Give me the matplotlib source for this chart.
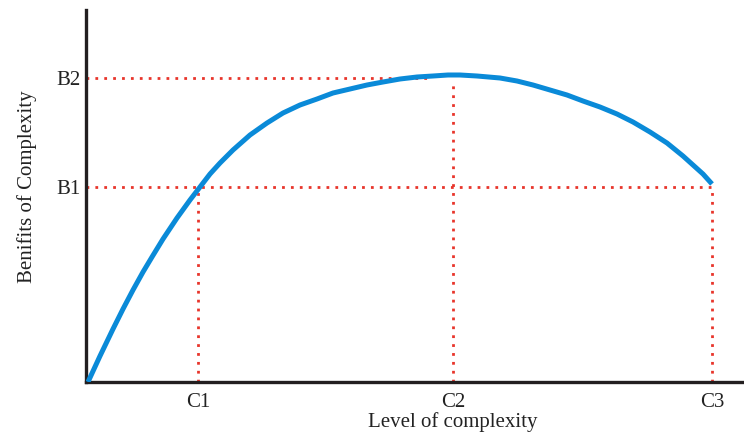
import matplotlib
matplotlib.use("Agg")
import matplotlib.pyplot as plt

# curve (x = complexity, y = benefit), arbitrary units
curve_x = [2, 14, 27, 37, 47, 57, 66, 77, 91, 104, 114, 124, 134, 147, 164,
           181, 197, 214, 231, 247, 264, 281, 297, 314, 331, 347, 362, 374,
           391, 414, 431, 447, 464, 481, 497, 514, 531, 547, 564, 581, 597,
           607, 617, 626]
curve_y = [0, 26, 53, 73, 92, 110, 125, 143, 164, 182, 195, 208, 219, 232,
           247, 259, 269, 277, 283, 289, 293, 297, 300, 303, 305, 306, 307,
           307, 306, 304, 301, 297, 292, 287, 281, 275, 268, 260, 250, 239,
           226, 217, 208, 198]

x_ticks = [112, 367, 626]
x_labels = ["C1", "C2", "C3"]
y_ticks = [195, 304]
y_labels = ["B1", "B2"]

# where the B2 guide stops (meets the curve) and C2 guide starts
b2_end = 341
c2_top = 300

RED = "#e8352b"
BLUE = "#0a8ad8"
AXIS = "#231f20"
dots = (0, (1, 2.2))

plt.rcParams["font.family"] = ["Liberation Serif", "DejaVu Serif"]

fig = plt.figure(figsize=(7.44, 4.33), dpi=100)
ax = fig.add_axes([86 / 744, 51 / 433, 658 / 744, 372 / 433])

# guides
ax.plot([0, x_ticks[2]], [y_ticks[0], y_ticks[0]], color=RED, lw=2, ls=dots)
ax.plot([0, b2_end], [y_ticks[1], y_ticks[1]], color=RED, lw=2, ls=dots)
ax.plot([x_ticks[0], x_ticks[0]], [0, y_ticks[0]], color=RED, lw=2, ls=dots)
ax.plot([x_ticks[1], x_ticks[1]], [0, c2_top], color=RED, lw=2, ls=dots)
ax.plot([x_ticks[2], x_ticks[2]], [0, y_ticks[0]], color=RED, lw=2, ls=dots)

ax.plot(curve_x, curve_y, color=BLUE, lw=3.6, solid_capstyle="butt",
        solid_joinstyle="round", zorder=3)

ax.set_xlim(0, 658)
ax.set_ylim(0, 372)
ax.set_xticks(x_ticks)
ax.set_xticklabels(x_labels)
ax.set_yticks(y_ticks)
ax.set_yticklabels(y_labels)
ax.tick_params(length=0, labelsize=15, colors="#222222", pad=4)
ax.tick_params(axis="x", pad=8)

for side in ("top", "right"):
    ax.spines[side].set_visible(False)
for side in ("left", "bottom"):
    ax.spines[side].set_linewidth(2.4)
    ax.spines[side].set_color(AXIS)

fig.text(453 / 744, 1 - 422 / 433, "Level of complexity", ha="center",
         va="center", fontsize=15, color="#222222")
fig.text(27 / 744, 1 - 187 / 433, "Benifits of Complexity", ha="center",
         va="center", rotation=90, fontsize=15, color="#222222")

fig.savefig("out.png", dpi=100)
